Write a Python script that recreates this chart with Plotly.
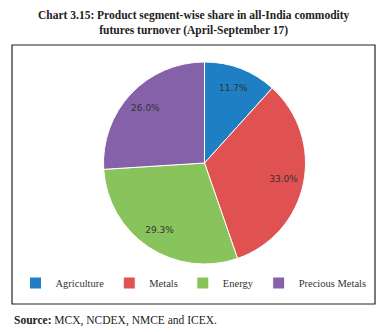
import plotly.graph_objects as go

W, H = 387, 332
categories = ["Agriculture", "Metals", "Energy", "Precious Metals"]
shares = [11.7, 33.0, 29.3, 26.0]
colors = ["#1f7fc4", "#e05252", "#88c35c", "#8461a9"]

def px(x0, x1):
    return [x0 / W, x1 / W]

def py(y0, y1):
    return [1 - y1 / H, 1 - y0 / H]

dom = dict(x=px(103, 306), y=py(62, 264))

# main pie (colours, legend)
fig = go.Figure(go.Pie(
    labels=categories,
    values=shares,
    sort=False,
    direction="clockwise",
    rotation=0,
    marker=dict(colors=colors, line=dict(color="white", width=1)),
    textinfo="none",
    domain=dom,
    hoverinfo="label+percent",
))

# transparent ring overlay to place the percentage labels near the rim
fig.add_trace(go.Pie(
    labels=categories,
    values=shares,
    sort=False,
    direction="clockwise",
    rotation=0,
    hole=0.6,
    marker=dict(colors=["rgba(0,0,0,0)"] * len(shares), line=dict(width=0)),
    texttemplate="%{value:.1f}%",
    textposition="inside",
    insidetextorientation="horizontal",
    textfont=dict(family="DejaVu Sans", size=9, color="#333333"),
    domain=dom,
    showlegend=False,
    hoverinfo="skip",
))

fig.update_layout(
    width=W, height=H,
    margin=dict(l=0, r=0, t=0, b=0),
    paper_bgcolor="white",
    plot_bgcolor="white",
    showlegend=True,
    legend=dict(
        orientation="h",
        x=0.5, xanchor="center",
        y=1 - 283 / H, yanchor="middle",
        font=dict(family="Liberation Serif, serif", size=10.5, color="#333333"),
        itemwidth=30,
        tracegroupgap=0,
        bgcolor="rgba(0,0,0,0)",
    ),
    shapes=[dict(
        type="rect", xref="paper", yref="paper",
        x0=12 / W, x1=375 / W, y0=1 - 304 / H, y1=1 - 45 / H,
        line=dict(color="#222222", width=1.2),
    )],
    annotations=[
        dict(
            text="<b>Chart 3.15: Product segment-wise share in all-India commodity<br>futures turnover (April-September 17)</b>",
            x=0.5, y=1 - 7 / H, xref="paper", yref="paper",
            xanchor="center", yanchor="top", showarrow=False, align="center",
            font=dict(family="Liberation Serif", size=11.5, color="#222222"),
        ),
        dict(
            text="<b>Source:</b> MCX, NCDEX, NMCE and ICEX.",
            x=12 / W, y=1 - 320 / H, xref="paper", yref="paper",
            xanchor="left", yanchor="middle", showarrow=False,
            font=dict(family="Liberation Serif", size=11.5, color="#222222"),
        ),
    ],
)

fig.write_html("out.html")
